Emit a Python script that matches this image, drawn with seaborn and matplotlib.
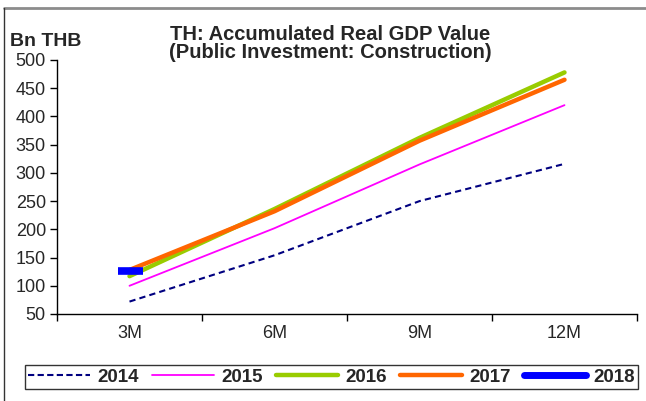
import matplotlib
matplotlib.use("Agg")
import matplotlib.pyplot as plt
from matplotlib.lines import Line2D
import seaborn as sns
import pandas as pd

# Accumulated real GDP, public investment in construction (Bn THB)
periods = ["3M", "6M", "9M", "12M"]
y2014 = [72, 154, 250, 316]
y2015 = [100, 202, 315, 420]
y2016 = [117, 236, 362, 478]
y2017 = [128, 232, 357, 465]
y2018 = [126]

series = {"2014": y2014, "2015": y2015, "2016": y2016, "2017": y2017, "2018": y2018}
colors = {"2014": "#000080", "2015": "#FF00FF", "2016": "#99CC00",
          "2017": "#FF6600", "2018": "#0000FF"}
widths = {"2014": 1.5, "2015": 1.3, "2016": 3.2, "2017": 3.2, "2018": 4.5}

rows = []
for year, vals in series.items():
    for p, v in zip(periods, vals):
        rows.append({"period": p, "value": v, "year": year})
df = pd.DataFrame(rows)

sns.set_theme(style="white")
plt.rcParams["font.family"] = ["Liberation Sans", "DejaVu Sans"]

fig = plt.figure(figsize=(6.46, 4.01), dpi=100)
ax = fig.add_axes([57 / 646, 1 - 314 / 401, 580 / 646, 254 / 401])

for year in series:
    sub = df[df["year"] == year]
    kw = {}
    if year == "2014":
        kw["dashes"] = (3, 2)
    if len(sub) == 1:
        kw["marker"] = "_"
        kw["markersize"] = 18
        kw["markeredgewidth"] = 5.5
        kw["markeredgecolor"] = colors[year]
    sns.lineplot(data=sub, x="period", y="value", ax=ax, color=colors[year],
                 linewidth=widths[year], legend=False, **kw)

ax.set_xlim(-0.5, 3.5)
ax.set_ylim(50, 500)
ax.set_yticks(range(50, 501, 50))
ax.set_xticks([-0.5, 0.5, 1.5, 2.5, 3.5])
ax.set_xticklabels([])
ax.set_xticks(range(len(periods)), minor=True)
ax.set_xticklabels(periods, minor=True)
ax.tick_params(axis="x", which="major", direction="out", length=5, width=1, color="black", bottom=True)
ax.tick_params(axis="x", which="minor", length=0, pad=8, labelsize=13)
ax.tick_params(axis="y", direction="out", length=5, width=1, color="black", left=True, labelsize=13, pad=3)
ax.set_xlabel("")
ax.set_ylabel("")
for s in ["top", "right"]:
    ax.spines[s].set_visible(False)
for s in ["left", "bottom"]:
    ax.spines[s].set_color("black")
    ax.spines[s].set_linewidth(1)
ax.grid(False)

fig.text(330 / 646, 1 - 34 / 401, "TH: Accumulated Real GDP Value", ha="center", va="center",
         fontsize=14.5, fontweight="bold")
fig.text(330 / 646, 1 - 52 / 401, "(Public Investment: Construction)", ha="center", va="center",
         fontsize=14.5, fontweight="bold")
fig.text(10 / 646, 1 - 42 / 401, "Bn THB", ha="left", va="center", fontsize=14, fontweight="bold")

handles = []
for year in series:
    h = Line2D([], [], color=colors[year], linewidth=widths[year] if year != "2018" else 5,
               linestyle=(0, (3, 1.6)) if year == "2014" else "-", solid_capstyle="round")
    handles.append(h)
leg = fig.legend(handles, list(series.keys()), loc="center", ncol=5,
                 bbox_to_anchor=(331.5 / 646, 1 - 377 / 401), frameon=True, fancybox=False,
                 edgecolor="black", handlelength=3.3, handletextpad=0.35, columnspacing=0.75,
                 prop={"weight": "bold", "size": 13.5}, borderpad=0.2, borderaxespad=0)
leg.get_frame().set_linewidth(1)

# Chart frame: grey top edge and dark left edge
fig.add_artist(Line2D([4 / 646, 1], [1 - 7.5 / 401, 1 - 7.5 / 401], transform=fig.transFigure,
                      color="#8c8c8c", linewidth=2))
fig.add_artist(Line2D([3.5 / 646, 3.5 / 646], [0, 1 - 7.5 / 401], transform=fig.transFigure,
                      color="#333333", linewidth=1))

fig.savefig("out.png", dpi=100)
